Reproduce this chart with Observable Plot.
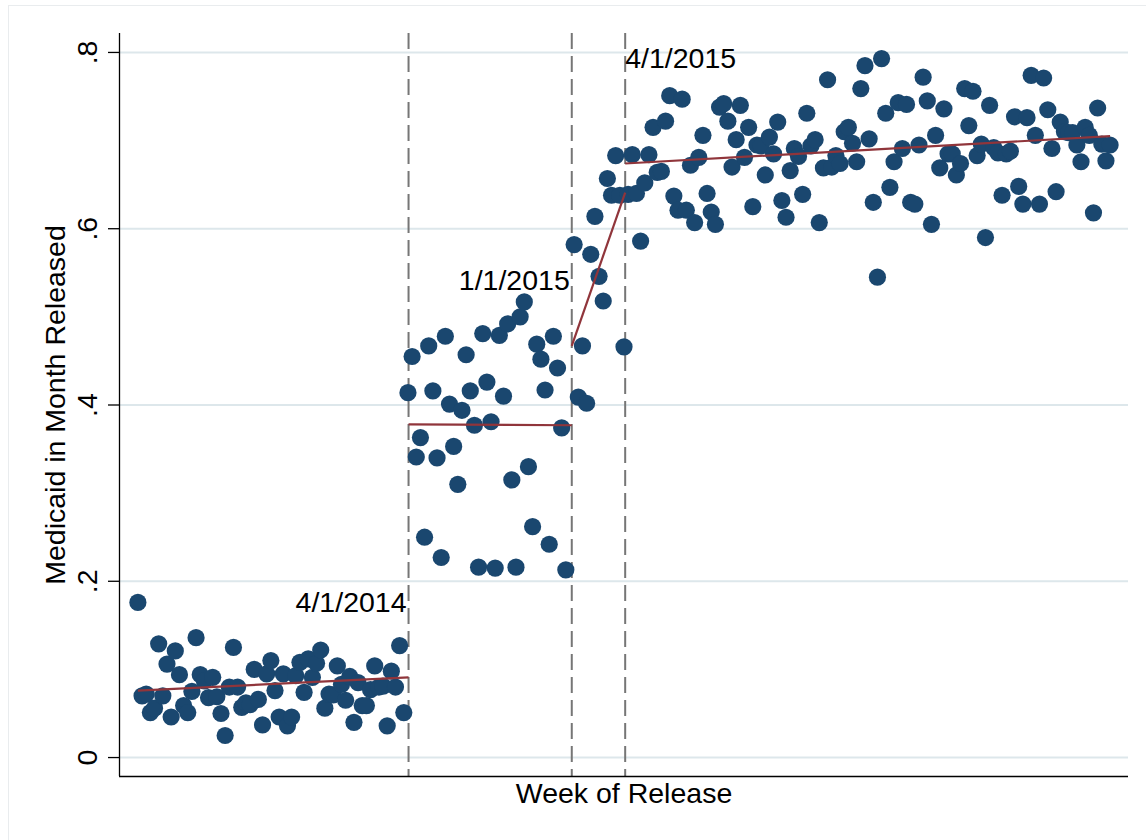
<!DOCTYPE html>
<html>
<head>
<meta charset="utf-8">
<script src="https://cdn.jsdelivr.net/npm/d3@7"></script>
<script src="https://cdn.jsdelivr.net/npm/@observablehq/plot@0.6"></script>
<style>
html, body { margin: 0; padding: 0; background: #fff; }
#chart { position: relative; width: 1146px; height: 840px; overflow: hidden; }
#frame { position: absolute; left: 8px; top: 5px; right: -10px; bottom: -10px;
  border-left: 1px solid #e9ecee; border-top: 1px solid #e9ecee; pointer-events: none; }
#chart svg { position: absolute; left: 0; top: 0; }
</style>
</head>
<body>
<div id="chart"><div id="frame"></div></div>
<script>
// ---- data (weekly shares) ----
const segmentStarts = ["2012-12-31", "2014-03-31", "2015-01-05", "2015-04-06"];

const weeks2013to2014 = [0.176,0.070,0.072,0.051,0.056,0.129,0.070,0.106,0.046,0.121,
  0.094,0.059,0.051,0.075,0.136,0.094,0.087,0.068,0.091,0.069,
  0.050,0.025,0.080,0.125,0.080,0.057,0.062,0.060,0.100,0.066,
  0.037,0.095,0.110,0.076,0.046,0.095,0.036,0.046,0.093,0.108,
  0.074,0.112,0.091,0.107,0.122,0.056,0.072,0.071,0.104,0.083,
  0.065,0.092,0.040,0.085,0.059,0.059,0.077,0.104,0.080,0.081,
  0.036,0.098,0.080,0.127,0.051];

const weeks2014 = [0.414,0.455,0.341,0.363,0.250,0.467,0.416,0.340,0.227,0.478,
  0.401,0.353,0.310,0.394,0.457,0.416,0.377,0.216,0.481,0.426,
  0.381,0.215,0.479,0.410,0.492,0.315,0.216,0.500,0.517,0.330,
  0.262,0.469,0.452,0.417,0.242,0.478,0.442,0.374,0.213];

const weeksQ1_2015 = [0.582,0.409,0.467,0.402,0.571,0.614,0.546,0.518,0.657,0.638,0.683,0.638,0.466];

const weeksAfter2015 = [0.639,0.684,0.640,0.586,0.652,0.684,0.715,0.664,0.665,0.722,
  0.751,0.637,0.621,0.747,0.621,0.672,0.607,0.681,0.706,0.640,
  0.619,0.605,0.738,0.742,0.722,0.670,0.701,0.740,0.681,0.715,
  0.625,0.695,0.694,0.661,0.704,0.685,0.721,0.632,0.613,0.666,
  0.691,0.682,0.639,0.731,0.694,0.701,0.607,0.669,0.769,0.670,
  0.683,0.674,0.710,0.715,0.697,0.676,0.759,0.785,0.702,0.630,
  0.545,0.793,0.731,0.647,0.676,0.743,0.691,0.741,0.630,0.628,
  0.695,0.772,0.745,0.605,0.706,0.669,0.736,0.685,0.685,0.661,
  0.674,0.759,0.717,0.756,0.683,0.696,0.590,0.740,0.692,0.686,
  0.638,0.685,0.688,0.727,0.648,0.628,0.726,0.774,0.706,0.628,
  0.771,0.735,0.691,0.642,0.721,0.710,0.709,0.709,0.695,0.676,
  0.715,0.706,0.618,0.737,0.696,0.677,0.695];

// policy dates (dashed lines) and their labels
const cutoffDates = ["2014-04-01", "2015-01-01", "2015-04-01"];
const cutoffLabels = ["4/1/2014", "1/1/2015", "4/1/2015"];
const cutoffLabelY = [0.165, 0.530, 0.782];
const cutoffLabelAnchor = ["end", "end", "start"];

// fitted lines per period
const fitStartDates = ["2012-12-31", "2014-04-01", "2015-01-01", "2015-04-01"];
const fitEndDates = ["2014-04-01", "2015-01-01", "2015-04-01", "2017-06-26"];
const fitStartValues = [0.076, 0.378, 0.467, 0.674];
const fitEndValues = [0.091, 0.377, 0.641, 0.705];

const yTicks = [0, 0.2, 0.4, 0.6, 0.8];
const yTickLabels = ["0", ".2", ".4", ".6", ".8"];
const xDomain = ["2012-11-30", "2017-07-27"];
const yDomain = [-0.0215, 0.8215];

// ---- build tables ----
const segments = [weeks2013to2014, weeks2014, weeksQ1_2015, weeksAfter2015];
const points = [];
segments.forEach((vals, s) => {
  const start = new Date(segmentStarts[s]);
  vals.forEach((v, i) => points.push({date: d3.utcDay.offset(start, 7 * i), value: v}));
});
const fits = fitStartDates.map((d, i) => ({
  x1: new Date(d), x2: new Date(fitEndDates[i]), y1: fitStartValues[i], y2: fitEndValues[i]
}));
const labels = cutoffLabels.map((t, i) => ({
  date: new Date(cutoffDates[i]), y: cutoffLabelY[i], text: t, anchor: cutoffLabelAnchor[i]
}));
const ticks = yTicks.map((v, i) => ({value: v, label: yTickLabels[i]}));

const FONT = "'Liberation Sans', Arial, Helvetica, sans-serif";
const FS = 28.5;

const chart = Plot.plot({
  width: 1146,
  height: 840,
  marginLeft: 119,
  marginRight: 18,
  marginTop: 33,
  marginBottom: 64,
  style: {fontFamily: FONT, background: "transparent", color: "black"},
  x: {type: "utc", domain: xDomain.map(d => new Date(d)), axis: null},
  y: {domain: yDomain, axis: null},
  marks: [
    Plot.gridY(yTicks, {stroke: "#dde7eb", strokeOpacity: 1, strokeWidth: 2}),
    Plot.ruleX(cutoffDates.map(d => new Date(d)), {stroke: "#767676", strokeWidth: 2, strokeDasharray: "16,7"}),
    Plot.dot(points, {x: "date", y: "value", r: 8.6, fill: "#1a476f"}),
    Plot.link(fits, {x1: "x1", y1: "y1", x2: "x2", y2: "y2", stroke: "#90353b", strokeWidth: 2.2}),
    Plot.ruleX([new Date(xDomain[0])], {stroke: "black", strokeWidth: 1.3}),
    Plot.ruleY([yDomain[0]], {stroke: "black", strokeWidth: 1.3}),
    Plot.axisY(yTicks, {tickSize: 11, tickFormat: () => "", stroke: "black", strokeWidth: 1.3}),
    Plot.text(ticks, {y: "value", text: "label", frameAnchor: "left", textAnchor: "middle", dx: -32, rotate: -90, fontSize: FS, fill: "black"}),
    Plot.text(labels.filter(d => d.anchor === "end"), {x: "date", y: "y", text: "text", textAnchor: "end", lineAnchor: "bottom", dx: -2, fontSize: FS, fill: "black"}),
    Plot.text(labels.filter(d => d.anchor === "start"), {x: "date", y: "y", text: "text", textAnchor: "start", lineAnchor: "bottom", dx: 0, fontSize: FS, fill: "black"}),
    Plot.text(["Medicaid in Month Released"], {frameAnchor: "left", textAnchor: "middle", dx: -64, rotate: -90, fontSize: FS, fill: "black"}),
    Plot.text(["Week of Release"], {frameAnchor: "bottom", dy: 26, lineAnchor: "bottom", fontSize: FS, fill: "black"})
  ]
});
document.getElementById("chart").appendChild(chart);
</script>
</body>
</html>
